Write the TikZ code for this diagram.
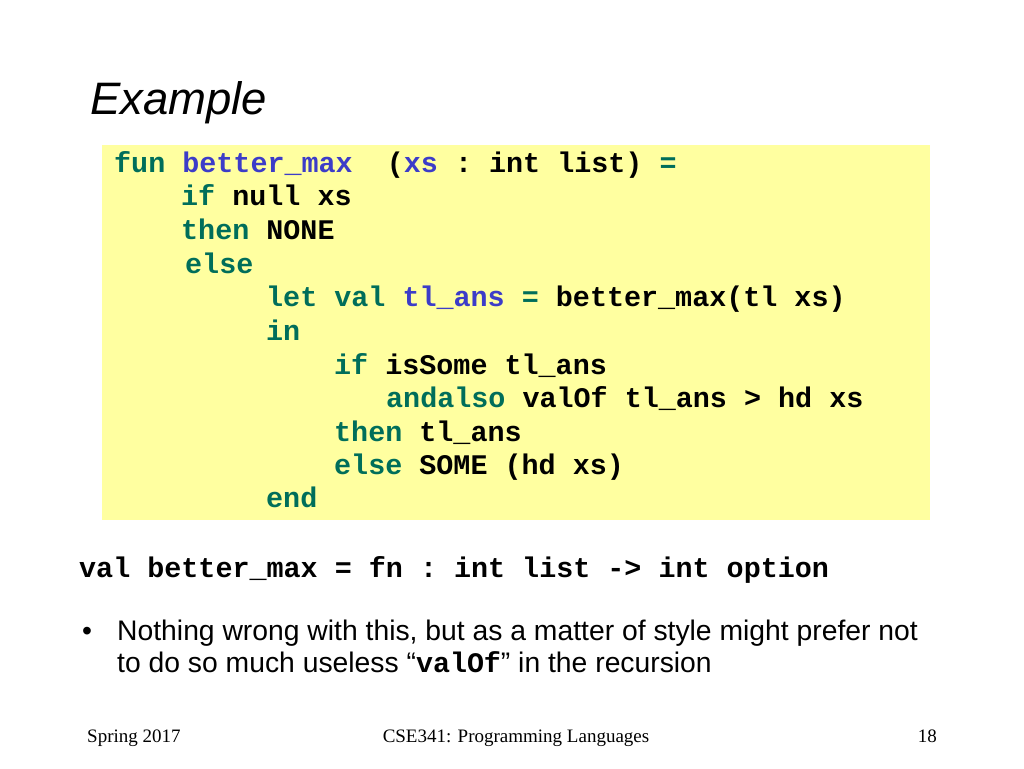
\documentclass[tikz,border=0pt]{standalone}
\usepackage{fontspec}
\setmainfont{Liberation Sans}
\setmonofont{Liberation Mono}
\newfontfamily\serif{Liberation Serif}
\definecolor{codebg}{RGB}{255,255,160}
\definecolor{kw}{RGB}{0,110,90}
\definecolor{idf}{RGB}{60,60,200}
\newcommand{\K}[1]{\textcolor{kw}{#1}}
\newcommand{\I}[1]{\textcolor{idf}{#1}}

\begin{document}
\begin{tikzpicture}[x=1pt, y=-1pt,
  code/.style = {anchor=base west, inner sep=0pt, font=\ttfamily\bfseries\fontsize{28.4}{30}\selectfont},
  body/.style = {anchor=base west, inner sep=0pt, font=\fontsize{28.3}{30}\selectfont},
  foot/.style = {anchor=base, inner sep=0pt, font=\serif\fontsize{19}{22}\selectfont}]
  \useasboundingbox (0,0) rectangle (1024,768);
  \fill[white] (0,0) rectangle (1024,768);

  \node[anchor=base west, inner sep=0pt, font=\itshape\fontsize{45.5}{48}\selectfont] (title) at (90,114) {Example};

  \fill[codebg] (102,145) rectangle (930,520);

  \node[code] (l1) at (114,172) {\K{fun} \I{better\_max}\ \ (\I{xs} : int list) \K{=}};
  \node[code] (l2) at (181,205) {\K{if} null xs};
  \node[code] (l3) at (181,239) {\K{then} NONE};
  \node[code] (l4) at (185,273) {\K{else}};
  \node[code] (l5) at (266,306) {\K{let} \K{val} \I{tl\_ans} \K{=} better\_max(tl xs)};
  \node[code] (l6) at (266,340) {\K{in}};
  \node[code] (l7) at (334,374) {\K{if} isSome tl\_ans};
  \node[code] (l8) at (386,407) {\K{andalso} valOf tl\_ans > hd xs};
  \node[code] (l9) at (334,441) {\K{then} tl\_ans};
  \node[code] (l10) at (334,474) {\K{else} SOME (hd xs)};
  \node[code] (l11) at (266,507) {\K{end}};

  \node[code] (sig) at (79,577) {val better\_max = fn : int list -> int option};

  \node[body] (dot) at (82,640) {•};
  \node[body] (b1) at (117,640) {Nothing wrong with this, but as a matter of style might prefer not};
  \node[body] (b2) at (117,672) {to do so much useless “{\ttfamily\bfseries valOf}” in the recursion};

  \node[foot, anchor=base west] (f1) at (87,742) {Spring 2017};
  \node[foot] (f2) at (516,742) {CSE341: Programming Languages};
  \node[foot, anchor=base east] (f3) at (937,742) {18};
\end{tikzpicture}
\end{document}
